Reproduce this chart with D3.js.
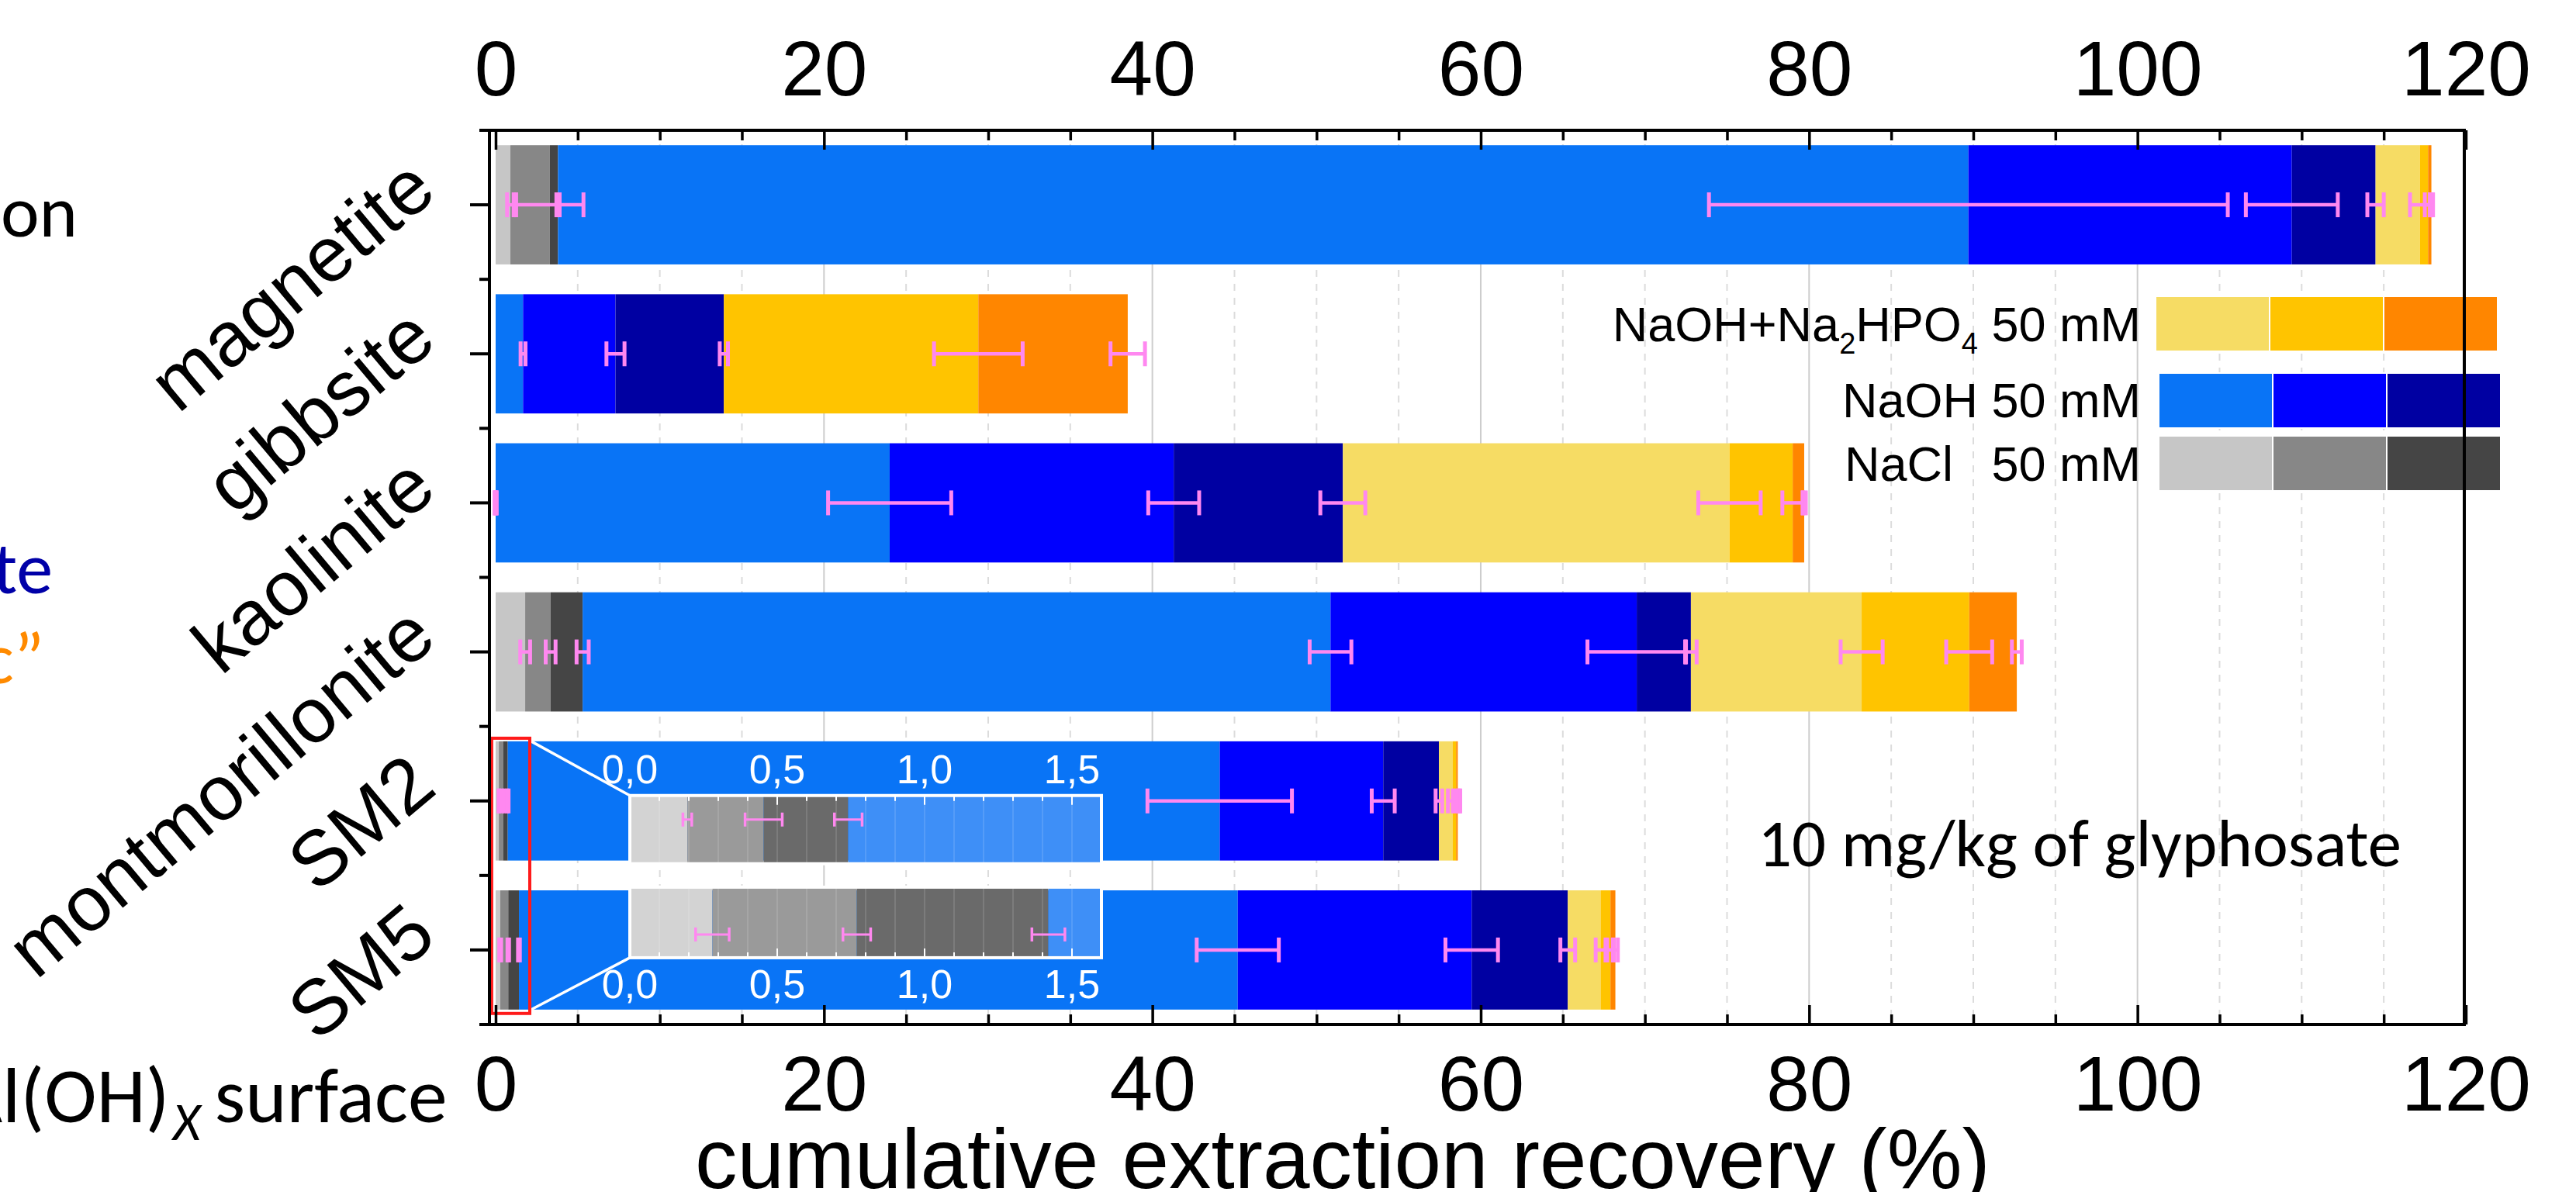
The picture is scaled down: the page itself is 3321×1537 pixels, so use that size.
<!DOCTYPE html>
<html><head><meta charset="utf-8">
<script src="https://cdn.jsdelivr.net/npm/d3@7"></script>
<style>body{margin:0;background:#fff;} svg{display:block;}</style>
</head><body>
<svg id="chart" width="3321" height="1537"></svg>
<script>
// ---------------- DATA ----------------
const categories = ["magnetite", "gibbsite", "kaolinite", "montmorillonite", "SM2", "SM5"];
const stepKeys = ["nacl1", "nacl2", "nacl3", "naoh1", "naoh2", "naoh3", "phos1", "phos2", "phos3"];
// increments (%) of each extraction step
const nacl1 = [0.9, 0, 0, 1.8, 0.195, 0.28];
const nacl2 = [2.4, 0, 0, 1.55, 0.259, 0.49];
const nacl3 = [0.5, 0, 0, 1.95, 0.287, 0.65];
const naoh1 = [85.9, 1.67, 24.0, 45.55, 43.36, 43.78];
const naoh2 = [19.7, 5.63, 17.3, 18.65, 9.96, 14.25];
const naoh3 = [5.1, 6.6, 10.3, 3.3, 3.39, 5.85];
const phos1 = [2.7, 0, 23.55, 10.4, 0.85, 2.0];
const phos2 = [0.5, 15.5, 3.85, 6.55, 0.2, 0.6];
const phos3 = [0.2, 9.1, 0.7, 2.9, 0.1, 0.3];
// errors (±) on the cumulative value
const errNacl1 = [0.2, null, 0.05, 0.3, 0.015, 0.057];
const errNacl2 = [2.05, null, 0.05, 0.3, 0.063, 0.047];
const errNacl3 = [0.1, null, 0.05, 0.37, 0.047, 0.056];
const errNaoh1 = [15.8, 0.15, 3.75, 1.27, 4.4, 2.5];
const errNaoh2 = [2.8, 0.55, 1.55, 3.0, 0.7, 1.6];
const errNaoh3 = [0.5, 0.25, 1.37, 0.35, 0.2, 0.45];
const errPhos1 = [0.6, null, 1.9, 1.28, 0.3, 0.3];
const errPhos2 = [0.2, 2.7, 0.63, 1.4, 0.2, 0.2];
const errPhos3 = [0.1, 1.05, 0.1, 0.3, 0.15, 0.15];
const xTicksMajor = [0, 20, 40, 60, 80, 100, 120];
const insetTicks = [0, 0.5, 1.0, 1.5];
const legendRows = [
  {keys: ["phos1", "phos2", "phos3"], label: "NaOH+Na2HPO4 50 mM"},
  {keys: ["naoh1", "naoh2", "naoh3"], label: "NaOH 50 mM"},
  {keys: ["nacl1", "nacl2", "nacl3"], label: "NaCl 50 mM"}
];

// ---------------- STYLE ----------------
const colors = {nacl1: "#c6c6c6", nacl2: "#878787", nacl3: "#454545",
  naoh1: "#0974f6", naoh2: "#0000fe", naoh3: "#0000a2",
  phos1: "#f6dc64", phos2: "#ffc400", phos3: "#ff8600"};
const insetColors = {nacl1: "#d3d3d3", nacl2: "#9a9a9a", nacl3: "#6a6a6a", naoh1: "#3e8ff7"};
const errColor = "#ff88f0";
const AR = "'Liberation Sans', Arial, Helvetica, sans-serif";
const CAL = "Carlito, Calibri, Lato, sans-serif";

const values = {nacl1, nacl2, nacl3, naoh1, naoh2, naoh3, phos1, phos2, phos3};
const errors = {nacl1: errNacl1, nacl2: errNacl2, nacl3: errNacl3, naoh1: errNaoh1, naoh2: errNaoh2,
  naoh3: errNaoh3, phos1: errPhos1, phos2: errPhos2, phos3: errPhos3};

const svg = d3.select("#chart");
const top0 = 168, bot0 = 1321, left0 = 631, right0 = 3177;
const x = d3.scaleLinear().domain([-0.4, 120]).range([630.5, 3179]);
const y = d3.scaleBand().domain(categories).range([top0, bot0]).paddingInner(0.2).paddingOuter(0.1);
const yc = c => y(c) + y.bandwidth() / 2;

const rows = categories.map((c, i) => {
  const r = {cat: c, idx: i};
  stepKeys.forEach(k => r[k] = values[k][i]);
  return r;
});
const stacked = d3.stack().keys(stepKeys)(rows);

// grid
svg.append("g").selectAll("line").data(d3.range(5, 120, 5)).join("line")
  .attr("x1", d => x(d)).attr("x2", d => x(d)).attr("y1", top0).attr("y2", bot0)
  .attr("stroke", d => d % 20 === 0 ? "#cdcdcd" : "#dcdcdc")
  .attr("stroke-width", 2)
  .attr("stroke-dasharray", d => d % 20 === 0 ? null : "9,9");

// bars
const gBars = svg.append("g");
stacked.forEach(s => {
  gBars.append("g").attr("fill", colors[s.key]).selectAll("rect").data(s).join("rect")
    .attr("x", d => x(d[0])).attr("width", d => Math.max(0, x(d[1]) - x(d[0])))
    .attr("y", d => y(d.data.cat)).attr("height", y.bandwidth());
});

function errBar(g, xs, c, e, cy, capH, w) {
  const a = xs(c - e), b = xs(c + e);
  g.append("line").attr("x1", a).attr("x2", b).attr("y1", cy).attr("y2", cy)
    .attr("stroke", errColor).attr("stroke-width", w);
  [a, b].forEach(p => g.append("line").attr("x1", p).attr("x2", p)
    .attr("y1", cy - capH).attr("y2", cy + capH)
    .attr("stroke", errColor).attr("stroke-width", w + 0.5));
}

// error bars
const gErr = svg.append("g");
stacked.forEach(s => {
  s.forEach((d, i) => {
    const e = errors[s.key][i];
    if (e == null) return;
    errBar(gErr, x, d[1], e, yc(d.data.cat), 16, 4.5);
  });
});

// zoom rectangle + connectors
const rx0 = x(-0.24), rx1 = x(2.08);
const ry0 = y("SM2") - 4, ry1 = y("SM5") + y.bandwidth() + 5;
const xi = d3.scaleLinear().domain([0, 1.6]).range([812, 1420]);
const insets = [
  {cat: "SM2", top: yc("SM2") - 7, h: 88, errY: 31, labelY: -16, tickFromTop: true},
  {cat: "SM5", top: yc("SM5") - 81, h: 91, errY: 61, labelY: 91 + 52, tickFromTop: false}
];
svg.append("line").attr("x1", rx1).attr("y1", ry0 + 3).attr("x2", xi(0)).attr("y2", insets[0].top)
  .attr("stroke", "#fff").attr("stroke-width", 3.5);
svg.append("line").attr("x1", rx1).attr("y1", ry1 - 4).attr("x2", xi(0)).attr("y2", insets[1].top + insets[1].h)
  .attr("stroke", "#fff").attr("stroke-width", 3.5);
svg.append("rect").attr("x", rx0).attr("y", ry0).attr("width", rx1 - rx0).attr("height", ry1 - ry0)
  .attr("fill", "none").attr("stroke", "#ff1a1a").attr("stroke-width", 4);

// insets
const fmtComma = d3.formatLocale({decimal: ",", thousands: ".", grouping: [3], currency: ["", ""]}).format(".1f");
const defs = svg.append("defs");
insets.forEach((ins, k) => {
  const g = svg.append("g");
  const id = "clipInset" + k;
  defs.append("clipPath").attr("id", id).append("rect")
    .attr("x", xi(0)).attr("y", ins.top).attr("width", xi(1.6) - xi(0)).attr("height", ins.h);
  const gc = g.append("g").attr("clip-path", `url(#${id})`);
  const ci = categories.indexOf(ins.cat);
  stacked.forEach(s => {
    const d = s[ci];
    if (d[0] >= 1.6 || d[1] - d[0] <= 0) return;
    gc.append("rect").attr("x", xi(d[0])).attr("width", xi(Math.min(d[1], 1.6)) - xi(d[0]))
      .attr("y", ins.top).attr("height", ins.h)
      .attr("fill", insetColors[s.key] || colors[s.key]);
  });
  gc.selectAll("line.ig").data(d3.range(0.1, 1.6, 0.1)).join("line")
    .attr("x1", d => xi(d)).attr("x2", d => xi(d)).attr("y1", ins.top).attr("y2", ins.top + ins.h)
    .attr("stroke", "#ffffff").attr("stroke-opacity", 0.12).attr("stroke-width", 2);
  const ty = ins.tickFromTop ? ins.top : ins.top + ins.h;
  const dir = ins.tickFromTop ? 1 : -1;
  g.selectAll("line.it").data(d3.range(0, 1.61, 0.1)).join("line")
    .attr("x1", d => xi(d)).attr("x2", d => xi(d)).attr("y1", ty)
    .attr("y2", d => ty + dir * (Math.abs(d * 2 - Math.round(d * 2)) < 1e-6 ? 12 : 7))
    .attr("stroke", "#fff").attr("stroke-width", 2);
  ["nacl1", "nacl2", "nacl3"].forEach(key => {
    const s = stacked.find(t => t.key === key);
    const e = errors[key][ci];
    if (e == null) return;
    errBar(g, xi, s[ci][1], e, ins.top + ins.errY, 9, 3);
  });
  g.append("rect").attr("x", xi(0)).attr("y", ins.top).attr("width", xi(1.6) - xi(0)).attr("height", ins.h)
    .attr("fill", "none").attr("stroke", "#fff").attr("stroke-width", 4);
  g.selectAll("text").data(insetTicks).join("text")
    .attr("x", d => xi(d)).attr("y", ins.top + ins.labelY)
    .attr("text-anchor", "middle").attr("fill", "#fff")
    .attr("font-family", AR).attr("font-size", 52)
    .text(d => fmtComma(d));
});

// legend
const lg = svg.append("g");
const legY = [382, 481, 562], legX = [2779, 2783, 2783], swW = 147, swH = 71;
legendRows.forEach((row, r) => {
  row.keys.forEach((k, j) => {
    lg.append("rect").attr("x", legX[r] + j * swW).attr("y", legY[r]).attr("width", swW).attr("height", swH)
      .attr("fill", colors[k]).attr("stroke", "#fff").attr("stroke-width", 2);
  });
});
const legText = (yb) => lg.append("text").attr("x", 2760).attr("y", yb).attr("text-anchor", "end")
  .attr("font-family", AR).attr("font-size", 63).attr("fill", "#000");
{
  const t = legText(440);
  t.append("tspan").text("NaOH+Na");
  t.append("tspan").attr("font-size", 38).attr("dy", 16).text("2");
  t.append("tspan").attr("dy", -16).text("HPO");
  t.append("tspan").attr("font-size", 38).attr("dy", 16).text("4");
  t.append("tspan").attr("dy", -16).text(" 50 mM");
}
legText(538).text(legendRows[1].label);
legText(620).text("50 mM");
lg.append("text").attr("x", 2378).attr("y", 620).attr("font-family", AR).attr("font-size", 63).text("NaCl");

// frame
svg.append("rect").attr("x", left0).attr("y", top0).attr("width", right0 - left0).attr("height", bot0 - top0)
  .attr("fill", "none").attr("stroke", "#000").attr("stroke-width", 4);

// x axes
function styleAxis(g) {
  g.select(".domain").remove();
  g.selectAll("line").attr("stroke", "#000").attr("stroke-width", 3.5);
  g.selectAll("text").attr("font-family", AR).attr("font-size", 100).attr("fill", "#000");
}
const minorVals = d3.range(0, 121, 5).filter(v => v % 20 !== 0);
svg.append("g").attr("transform", `translate(0,${top0})`)
  .call(d3.axisTop(x).tickValues(xTicksMajor).tickSize(-25).tickPadding(45).tickFormat(d3.format("d"))).call(styleAxis);
svg.append("g").attr("transform", `translate(0,${top0})`)
  .call(d3.axisTop(x).tickValues(minorVals).tickSize(-13).tickFormat("")).call(styleAxis);
svg.append("g").attr("transform", `translate(0,${bot0})`)
  .call(d3.axisBottom(x).tickValues(xTicksMajor).tickSize(-25).tickPadding(40).tickFormat(d3.format("d"))).call(styleAxis);
svg.append("g").attr("transform", `translate(0,${bot0})`)
  .call(d3.axisBottom(x).tickValues(minorVals).tickSize(-13).tickFormat("")).call(styleAxis);

// y axis ticks (outside)
const gy = svg.append("g");
gy.selectAll("line.c").data(categories).join("line")
  .attr("x1", left0 - 25).attr("x2", left0).attr("y1", d => yc(d)).attr("y2", d => yc(d))
  .attr("stroke", "#000").attr("stroke-width", 4);
const bounds = categories.map(c => y(c) - y.step() * 0.1).concat([bot0]);
gy.selectAll("line.b").data(bounds).join("line")
  .attr("x1", left0 - 13).attr("x2", left0).attr("y1", d => d).attr("y2", d => d)
  .attr("stroke", "#000").attr("stroke-width", 4);
gy.selectAll("text").data(categories).join("text")
  .attr("transform", d => `translate(566,${yc(d) - 12}) rotate(-40)`)
  .attr("text-anchor", "end").attr("font-family", AR).attr("font-size", 100).text(d => d);

// x title
{
  const t = svg.append("text").attr("x", 896).attr("y", 1532)
    .attr("font-family", AR).attr("font-size", 108).text("cumulative extraction recovery (%)");
  const len = t.node().getComputedTextLength();
  t.attr("font-size", 108 * 1670 / len);
}

// annotation
{
  const t = svg.append("text").attr("x", 2266).attr("y", 1117).attr("font-family", CAL).attr("font-size", 80)
    .text("10 mg/kg of glyphosate");
  const len = t.node().getComputedTextLength();
  t.attr("font-size", 80 * 830 / len);
}

// cut-off slide text on the left
svg.append("text").attr("x", 100).attr("y", 305).attr("text-anchor", "end").attr("font-family", CAL)
  .attr("font-size", 94).attr("fill", "#000").text("on");
svg.append("text").attr("x", 68).attr("y", 765).attr("text-anchor", "end").attr("font-family", CAL)
  .attr("font-size", 94).attr("fill", "#0000a8").text("te");
svg.append("text").attr("x", 57).attr("y", 881).attr("text-anchor", "end").attr("font-family", CAL)
  .attr("font-size", 94).attr("fill", "#ff8a00").text("c\u201D");
{
  const s = svg.append("text").attr("x", 266).attr("y", 1447).attr("font-family", CAL)
    .attr("font-size", 100).attr("fill", "#000").text("surface");
  const len = s.node().getComputedTextLength();
  const fs = 100 * 300 / len;
  s.attr("font-size", fs);
  // "Al(OH)": the "A" runs off the left edge, the "l" starts at about x = 3
  const a = svg.append("text").attr("y", 1447).attr("font-family", CAL)
    .attr("font-size", fs).attr("fill", "#000").text("Al(OH)");
  const wA = a.node().getSubStringLength(0, 1);
  const wRest = a.node().getSubStringLength(1, 5);
  a.attr("x", 3 - wA);
  const xEnd = 3 + wRest;
  const xs = svg.append("text").attr("x", xEnd + 4).attr("y", 1470).attr("font-family", CAL)
    .attr("font-style", "italic").attr("font-size", fs * 0.68).attr("fill", "#000").text("X");
  const xsEnd = xEnd + 4 + xs.node().getComputedTextLength();
  s.attr("x", Math.max(266, xsEnd + 18));
}
</script>
</body></html>
